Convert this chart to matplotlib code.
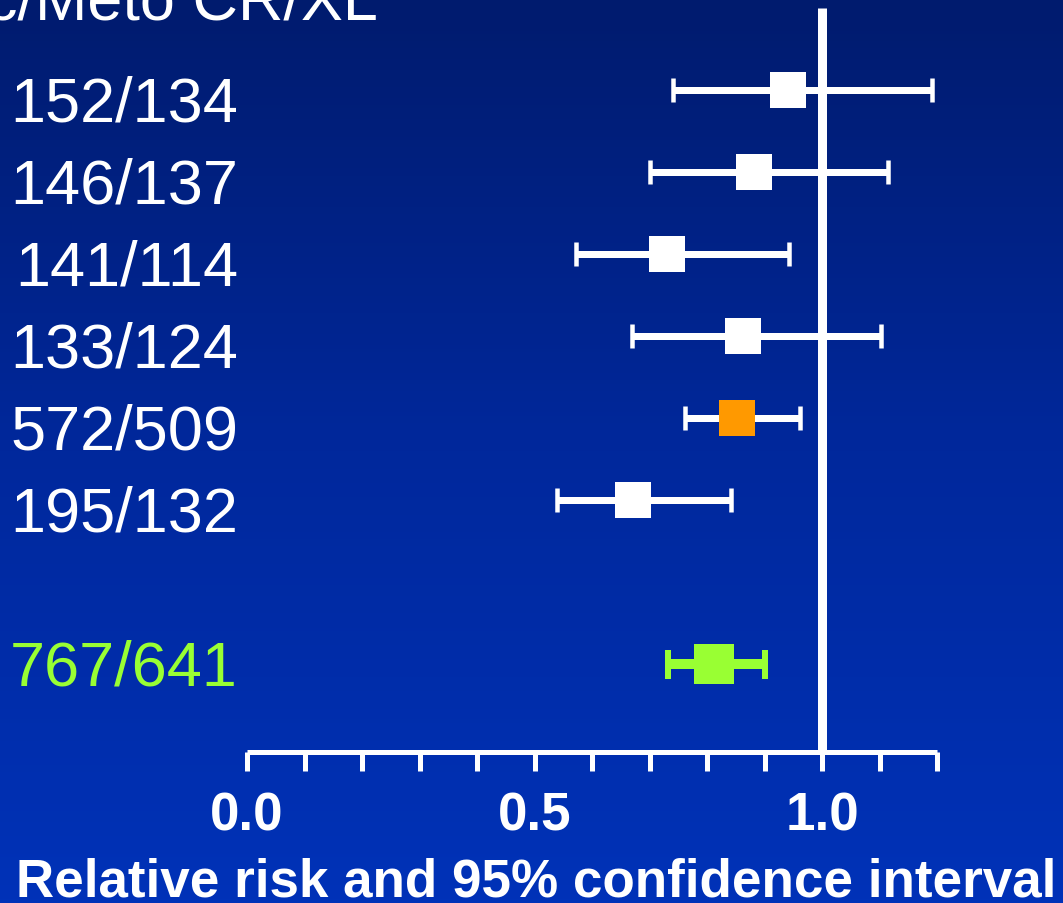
import numpy as np
import matplotlib
matplotlib.use("Agg")
import matplotlib.pyplot as plt
from matplotlib.colors import LinearSegmentedColormap
from matplotlib.transforms import blended_transform_factory, ScaledTranslation

# ---- data ----
labels = ["152/134", "146/137", "141/114", "133/124", "572/509", "195/132", "767/641"]
rr = [0.941, 0.882, 0.730, 0.863, 0.852, 0.671, 0.813]
ci_low = [0.741, 0.701, 0.572, 0.670, 0.762, 0.539, 0.732]
ci_high = [1.191, 1.115, 0.943, 1.103, 0.962, 0.842, 0.901]
rows = [0, 1, 2, 3, 4, 5, 7]
header = "Plac/Meto CR/XL"
xlabel = "Relative risk and 95% confidence interval"
xticks = [0.0, 0.1, 0.2, 0.3, 0.4, 0.5, 0.6, 0.7, 0.8, 0.9, 1.0, 1.1, 1.2]
xticklabels = ["0.0", "", "", "", "", "0.5", "", "", "", "", "1.0", "", ""]

W, H = 1063, 904
DPI = 100
fig = plt.figure(figsize=(W / DPI, H / DPI), dpi=DPI)
plt.rcParams['font.family'] = ['Liberation Sans', 'DejaVu Sans']

# background gradient
bg = fig.add_axes([0, 0, 1, 1], zorder=0)
cmap = LinearSegmentedColormap.from_list("bg", ["#001B6E", "#00289C", "#0032B8"])
grad = np.linspace(0, 1, 256).reshape(-1, 1)
bg.imshow(grad, aspect="auto", cmap=cmap, extent=[0, 1, 0, 1], origin="upper")
bg.set_axis_off()

def px2pt(p):
    return p * 72 / DPI

# forest axes: x 0..1.2 -> px 247..937 ; top px 9, spine px 753
x0, x1 = 247, 937
ytop, ybot = 9, 753
ax = fig.add_axes([x0 / W, 1 - ybot / H, (x1 - x0) / W, (ybot - ytop) / H], zorder=1)
ax.patch.set_alpha(0)
row_px0, row_step = 91, 82
ax.set_xlim(0, 1.2)
ax.set_ylim((ybot - row_px0) / row_step, (ytop - row_px0) / row_step)

ax.axvline(1.0, color="white", lw=px2pt(9), zorder=1, solid_capstyle="butt")

colors = ["white"] * 4 + ["#FF9900", "white", "#99FF33"]
for i, (r, lo, hi, y, c) in enumerate(zip(rr, ci_low, ci_high, rows, colors)):
    is_total = (i == len(rr) - 1)
    bar_c = "#99FF33" if is_total else "white"
    lw = px2pt(10) if is_total else px2pt(7)
    cap_w = px2pt(6) if is_total else px2pt(4.5)
    cap_s = px2pt(14.5) if is_total else px2pt(12)
    ms = px2pt(40) if is_total else px2pt(35.5)
    ax.errorbar([r], [y], xerr=[[r - lo], [hi - r]], fmt="none", ecolor=bar_c,
                elinewidth=lw, capsize=cap_s, capthick=cap_w, zorder=2, clip_on=False)
    ax.plot([r], [y], marker="s", ms=ms, color=c, mec=c, mew=0, zorder=3, clip_on=False)

for s in ["top", "left", "right"]:
    ax.spines[s].set_visible(False)
ax.spines["bottom"].set_color("white")
ax.spines["bottom"].set_linewidth(px2pt(5))
ax.spines["bottom"].set_capstyle("butt")
ax.set_yticks([])
ax.set_xticks(xticks)
ax.set_xticklabels(xticklabels)
ax.tick_params(axis="x", direction="out", length=px2pt(19), width=px2pt(5), color="white",
               labelcolor="white", labelsize=px2pt(53), pad=px2pt(20))
for t in ax.get_xticklabels():
    t.set_fontweight("bold")

# row labels
trans = blended_transform_factory(fig.transFigure, ax.transData)
for i, (lab, y) in enumerate(zip(labels, rows)):
    is_total = (i == len(labels) - 1)
    off = 21 if is_total else 31
    tr = trans + ScaledTranslation(0, -off / DPI, fig.dpi_scale_trans)
    ax.text(238 / W, y, lab, transform=tr, ha="right", va="baseline",
            fontsize=px2pt(63), color="#99FF33" if is_total else "white", clip_on=False)

# header (cropped at top-left, as in the reference)
fig.text(378 / W, 1 - 20 / H, header, ha="right", va="baseline",
         fontsize=px2pt(63), color="white")

# x label
fig.text(536 / W, 1 - 897 / H, xlabel, ha="center", va="baseline",
         fontsize=px2pt(53), fontweight="bold", color="white")

fig.savefig("out.png", dpi=DPI)
